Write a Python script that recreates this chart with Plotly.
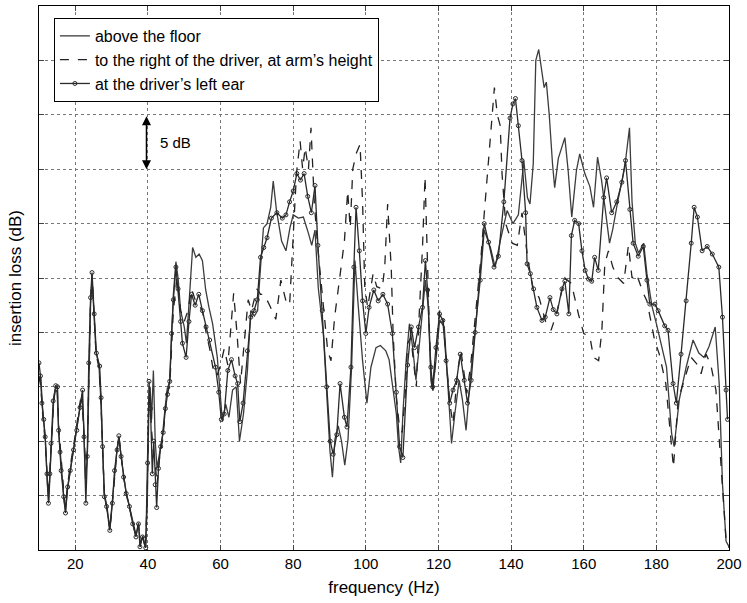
import plotly.graph_objects as go

# ---- data (frequency in Hz, insertion loss in dB, arbitrary offset) ----
F_FLOOR = [10, 10.5, 11, 11.7, 12.3, 12.7, 13.1, 13.5, 14, 14.5, 15, 15.4, 15.9, 16.4, 16.9, 17.3, 17.8, 18.5, 19.3, 20.2,
           21, 21.8, 22.3, 22.8, 23.3, 23.8, 24.2, 24.6, 25.1, 25.7, 26.5, 27, 27.5, 28, 28.7, 29.5, 30.2, 30.9, 31.5, 32,
           32.6, 33.3, 34, 34.9, 35.8, 36.7, 37.4, 37.9, 38.6, 39.3, 39.8, 40.2, 40.6, 41, 41.5, 42, 42.5, 43.2, 44, 44.7,
           45.3, 46, 46.5, 47, 47.7, 48.3, 49, 50, 50.6, 51.3, 52.3, 53.2, 54.1, 55, 55.9, 56.8, 57.8, 59.1, 60, 60.5,
           61.4, 62.3, 63.3, 64.3, 65.2, 66.3, 67.4, 68.3, 69.3, 70.2, 71, 71.8, 72.8, 73.8, 74.5, 75.4, 76.8, 78, 79.1, 80,
           81.4, 82.8, 84.2, 85.1, 86, 86.9, 88.3, 89.2, 90.1, 90.8, 91.5, 92.4, 93.3, 94.2, 95.1, 96.1, 97, 97.8, 99.1, 100.3,
           101.4, 102.8, 104, 105.5, 106.4, 107.4, 108.4, 109, 109.6, 110.2, 111.1, 112, 112.9, 113.8, 114.7, 115.9, 116.4, 117.2, 117.9, 118.4,
           119.3, 120.3, 121.6, 122.5, 123.6, 124.5, 125.7, 126.6, 127.6, 128.7, 130.1, 131.5, 132.6, 134.3, 135.6, 137, 138.9, 140.5, 142, 143.5,
           144.5, 145.2, 146.1, 146.8, 147.6, 148.4, 149.1, 149.7, 150.5, 151.4, 152, 153, 154, 154.8, 155.7, 156.7, 158, 158.9, 160.3, 161.7,
           162.7, 163.8, 164.9, 166, 167.1, 168, 169.4, 171.3, 172.6, 173.3, 174.2, 175.1, 176.5, 177.4, 178.8, 180, 181.4, 182.8, 184.2, 184.9,
           186.3, 188.2, 190.1, 191.7, 193.1, 194.5, 196.2, 197.3, 198.2, 199.2, 200]
IL_FLOOR = [15.5, 15.8, 13, 10.5, 6, 4.5, 7.5, 10.5, 13.5, 14.8, 14.5, 11, 8.5, 6.2, 4.5, 3.6, 5.5, 7, 8.8, 10.6,
            12.6, 14.2, 11.5, 6.5, 8.5, 16.5, 22.5, 25, 21.5, 18.2, 17, 14, 9.5, 5.2, 4, 2, 4.5, 7.3, 9.3, 10.3,
            8.6, 6.8, 5.3, 4, 2.6, 1.4, 2.5, 0.5, 1.3, 0.2, 4, 12, 15, 12, 16.5, 10, 7.5, 9, 10.5, 13,
            14.8, 15.5, 20, 23.5, 26.5, 25, 22, 20.5, 19, 23, 27.8, 26.9, 27.2, 26.6, 23.9, 22.3, 20.8, 17.7, 13.5, 11.8,
            13.4, 12.2, 14.7, 15, 10, 12.5, 16.5, 22, 21.5, 22, 26, 29.6, 30, 31.5, 33.9, 31.2, 28.4, 27.5, 29.6, 30.8,
            30.5, 30.6, 29.1, 28, 29.4, 24.1, 19.9, 14.7, 9.2, 6.7, 10.2, 11.4, 10, 7.8, 10.2, 17, 26.6, 22.9, 17.4, 13.5,
            16.8, 18.6, 18.8, 18.3, 17.5, 15, 12.5, 9.5, 8, 12.5, 17.4, 20.8, 18.6, 15.6, 18.6, 22.6, 24.8, 22.3, 15.6, 14.7,
            17.4, 21.1, 20.5, 15.6, 9.8, 12.5, 15.6, 13.8, 11, 15.6, 20.2, 24.8, 29.4, 27.8, 26, 28.4, 31.2, 30, 30.8, 35.8,
            32.4, 31.8, 35.5, 45, 46, 44, 42.5, 43, 40, 35.5, 33.3, 36, 37, 37.9, 34.9, 30.6, 34.9, 36.4, 34.6, 33.4,
            31.5, 36.1, 34, 31, 28.2, 29.5, 32.1, 35.2, 38.8, 32, 28.2, 27.3, 28.2, 25.4, 22.4, 20.8, 18.7, 16.8, 10.7, 9.5,
            13.8, 16.8, 19.3, 18.1, 17.7, 18.7, 20.5, 15.3, 6.1, 0.8, 0.3]

F_ARM = [10, 10.5, 11, 11.7, 12.3, 12.7, 13.1, 13.5, 14, 14.5, 15, 15.4, 15.9, 16.4, 16.9, 17.3, 17.8, 18.5, 19.3, 20.2,
         21, 21.8, 22.3, 22.8, 23.3, 23.8, 24.2, 24.6, 25.1, 25.7, 26.5, 27, 27.5, 28, 28.7, 29.5, 30.2, 30.9, 31.5, 32,
         32.6, 33.3, 34, 34.9, 35.8, 36.7, 37.4, 37.9, 38.6, 39.3, 39.8, 40.2, 40.6, 41, 41.5, 42, 42.5, 43.2, 44, 44.7,
         45.3, 46, 46.5, 47, 48, 49, 50, 51, 52, 53, 54, 55, 56, 57, 58, 59, 60, 61, 62, 63,
         63.6, 64.5, 65.5, 66.5, 67.6, 68.5, 70, 71, 72, 73.5, 75.2, 76.6, 78, 79, 80, 80.9, 81.9, 82.6, 83.3, 84.2,
         84.9, 85.8, 86.7, 88.2, 89.5, 90.4, 91.4, 92.8, 94.1, 95, 95.7, 96.4, 97.3, 98.4, 99.1, 99.7, 100.5, 102, 103, 104.5,
         105.2, 106, 107, 107.5, 108.4, 109.2, 110, 110.8, 111.5, 112.4, 113.4, 113.9, 114.7, 115.6, 116.3, 117, 117.7, 118.4, 119.3, 120.3,
         121.2, 122.1, 123.1, 124, 125.3, 126.2, 127, 127.8, 128.9, 130.3, 131.7, 132.6, 133.5, 134.5, 135.4, 136.2, 137, 137.5, 138.5, 140.3,
         141.7, 143, 144.5, 146, 147.7, 149.5, 151, 152.4, 154.8, 156.6, 158.6, 160, 161.7, 162.7, 164.1, 165, 165.8, 166.8, 168, 169.5,
         171, 172.3, 173.3, 174.5, 176.4, 177.4, 179.5, 180.8, 182.6, 184.7, 186, 188.2, 189.6, 191.4, 192.3, 193.7, 195, 196.4, 197.8, 199.2,
         200]
IL_ARM = [16, 15, 12.5, 10, 6.5, 5, 8, 10.5, 13.5, 15, 15, 11.5, 9, 6.5, 5, 4, 5.8, 7.5, 9, 11,
          13, 14.5, 11, 8, 9, 17, 23, 25.3, 21.8, 18, 16.8, 14, 9.5, 5, 3.8, 1.8, 4.3, 7.2, 9.2, 10.5,
          8.5, 6.7, 5.2, 3.8, 2.4, 1.2, 2.3, 0.3, 1.2, 0.1, 5, 13, 14, 11, 9, 8, 6, 8.5, 10, 12.5,
          14.5, 15, 19, 22, 25, 22, 21, 22, 24, 23, 22.5, 22, 20, 18.5, 16.5, 16, 17, 18.5, 17, 21,
          23.6, 20, 15.3, 19, 23, 22, 24, 23.5, 23.5, 22.5, 21.2, 24.8, 22.9, 22.5, 29.6, 34.6, 37.6, 35, 37, 35,
          38.8, 32, 28, 23, 18.3, 17.4, 21.4, 25, 28.4, 33, 29.6, 35, 36.4, 37.3, 32, 24.2, 22.3, 25.4, 24.2, 24,
          26, 31.8, 25.9, 20, 14, 11.5, 10.8, 14, 19, 19.5, 16.5, 15, 21.7, 27.8, 34.3, 26, 18, 14.4, 18.3, 22,
          21.5, 17.7, 13.5, 11.6, 16.5, 18.3, 16.5, 14.4, 17.1, 21.7, 26.9, 30.9, 34.5, 39, 42.5, 40, 39, 34.6, 30, 28.2,
          28, 31, 27, 24, 23.2, 21, 20.2, 21.6, 25, 24.5, 21.6, 19.9, 19.6, 17.7, 17.4, 20.2, 26.3, 27.5, 26, 25,
          24.5, 28, 25, 25.4, 23.6, 22.9, 19.3, 18, 15.3, 7.6, 13.8, 16.2, 17.7, 17, 16.2, 18, 17, 14.7, 7.6, 0.9,
          0.2]

F_EAR = [10, 10.4, 10.8, 11.3, 11.7, 12.2, 12.6, 13, 13.3, 13.9, 14.6, 15.1, 15.4, 15.8, 16.1, 16.8, 17.3, 17.9, 18.6, 19.5,
         20.4, 21.3, 22, 22.4, 22.9, 23.3, 23.7, 24.2, 24.6, 25.2, 25.8, 26.7, 27.1, 27.5, 28, 28.6, 29.5, 30.2, 30.8, 31.5,
         32, 32.6, 33.3, 34, 34.9, 35.8, 36.7, 37.4, 37.8, 38.5, 39.4, 39.9, 40.3, 40.7, 41.2, 41.6, 42, 42.4, 42.9, 43.5,
         44.2, 44.8, 45.4, 46, 46.5, 47, 47.7, 48.3, 49, 49.5, 50.5, 51.3, 52, 53, 54, 55, 56, 57, 58.6, 59.5,
         60.2, 61, 62, 63, 64, 64.7, 65.3, 66.2, 67.4, 68.3, 69.2, 70.1, 71, 71.9, 72.8, 74, 75.5, 77, 78, 79,
         80, 81, 82, 83, 84, 85, 86, 86.8, 88, 89.2, 90.2, 91, 92, 92.9, 94.1, 94.8, 95.9, 96.7, 97.3, 98.2,
         99.1, 100, 100.9, 102.2, 103.4, 104.7, 106, 107.3, 108.4, 109.3, 110.2, 111.5, 112.5, 113.4, 114.5, 115.6, 116.4, 117, 117.9, 118.4,
         119.3, 120.3, 121.2, 122.1, 123.1, 124, 125, 126, 127.1, 128, 129, 130.1, 131.5, 132.6, 133.8, 135.3, 136.5, 138, 139.7, 140.5,
         141.2, 142, 143, 144, 144.4, 145.3, 146.2, 147.1, 148.5, 149.4, 150.7, 151.6, 152.6, 154, 154.8, 155.9, 156.6, 157.5, 158.6, 159.5,
         160.4, 161.3, 162.2, 163, 164, 165.5, 166.3, 167.7, 169.1, 170.5, 171.5, 172.7, 173.6, 175, 176.4, 177.4, 178.2, 179.6, 180.5, 182.3,
         183.2, 184.6, 185.5, 186.8, 188.2, 189.6, 190.4, 191.3, 192.6, 194, 195.4, 197.2, 198.2, 199.2, 199.6]
IL_EAR = [17.2, 16, 13.5, 12, 10.4, 7, 4.3, 7, 9.8, 13.7, 15.1, 15, 11, 9, 7.3, 4.9, 3.4, 5.8, 7.3, 9.2,
          11, 13.1, 14.7, 10.4, 4.3, 8.6, 17.2, 23.2, 25.5, 21.7, 18.1, 16.9, 14, 9.5, 4.9, 4, 1.8, 4.3, 7.3, 9.2,
          10.5, 8.6, 6.7, 5.2, 4, 2.4, 1.2, 2.4, 0.3, 1.2, 0.2, 8, 15.5, 13, 7, 10, 6, 3.9, 7.5, 9.5,
          10.8, 13, 14.3, 15.5, 19.9, 23, 26, 24, 21, 19, 17.7, 21, 23.5, 22.5, 23.5, 22, 20.5, 19.3, 16.8, 14.5,
          12, 12.5, 16.5, 17.5, 16, 15.3, 11.8, 13.5, 18.3, 21.4, 22, 23, 26.9, 27.8, 28.7, 30.5, 31, 30.5, 30.8, 32,
          33, 34.6, 34, 34.6, 32.5, 31, 33.5, 28, 22, 15, 10, 8.8, 10.6, 15.3, 12.2, 11.3, 16.8, 26, 31.5, 27.5,
          22.9, 19.9, 22.3, 23.9, 22.9, 23.5, 22.6, 19.9, 14.5, 9.5, 8.5, 17, 20.5, 18.6, 20.5, 22.3, 26.6, 23.9, 16.8, 15,
          18.6, 21.7, 21.1, 17.4, 13.5, 14.7, 15.6, 18, 15.6, 13.5, 15.6, 20, 24.8, 30, 28.3, 26, 27, 32, 39.7, 41,
          41.5, 39, 35.8, 31, 26.3, 25.4, 24, 22.3, 21.1, 21.4, 23.2, 22.1, 21.7, 24, 24.7, 21.7, 28.9, 30.3, 30, 27.5,
          25.7, 24.9, 24.7, 26.9, 25.7, 32.4, 34.2, 31, 32, 33.8, 35.8, 31.3, 28.2, 27, 27.9, 24.8, 22.6, 22.6, 22, 20.6,
          20.2, 15.3, 13.5, 18, 22.9, 28.2, 31.5, 30.6, 27.5, 27.9, 27.2, 26, 21.4, 14.7, 12]

X_TICKS = [20, 40, 60, 80, 100, 120, 140, 160, 180, 200]
NAMES = ["above the floor", "to the right of the driver, at arm\u2019s height", "at the driver\u2019s left ear"]

FONT = "Liberation Sans, Arial, sans-serif"

fig = go.Figure()
fig.add_trace(go.Scatter(x=F_FLOOR, y=IL_FLOOR, mode="lines", name=NAMES[0],
                         line=dict(color="#3c3c3c", width=1.3)))
fig.add_trace(go.Scatter(x=F_ARM, y=IL_ARM, mode="lines", name=NAMES[1],
                         line=dict(color="#222222", width=1.3, dash="dash")))
fig.add_trace(go.Scatter(x=F_EAR, y=IL_EAR, mode="lines+markers", name=NAMES[2],
                         line=dict(color="#2a2a2a", width=1.3),
                         marker=dict(symbol="circle-open", size=4, color="#2a2a2a", line=dict(width=1))))

# 5 dB scale arrow
fig.add_annotation(x=39.6, y=35, ax=39.6, ay=40, xref="x", yref="y", axref="x", ayref="y",
                   text="", showarrow=True, arrowhead=2, arrowside="end+start",
                   arrowsize=1.2, arrowwidth=1.5, arrowcolor="black", standoff=0, startstandoff=0)
fig.add_annotation(x=42.8, y=37.5, xref="x", yref="y", text="5 dB", showarrow=False,
                   xanchor="left", font=dict(size=15, color="black", family=FONT))

fig.update_layout(
    width=747, height=603,
    margin=dict(l=39, r=14, t=5, b=53),
    paper_bgcolor="white", plot_bgcolor="white",
    font=dict(family=FONT, size=14, color="black"),
    showlegend=True,
    legend=dict(x=0.0216, y=0.978, xanchor="left", yanchor="top",
                bgcolor="white", bordercolor="black", borderwidth=1,
                font=dict(size=16, family=FONT), tracegroupgap=0, itemwidth=30),
)
fig.update_xaxes(range=[10, 200], tickvals=X_TICKS, ticks="inside", ticklen=5,
                 showline=True, linecolor="black", linewidth=1, mirror="ticks",
                 showgrid=True, gridcolor="#777777", griddash="dot", gridwidth=1,
                 zeroline=False, title=dict(text="frequency (Hz)", standoff=10),
                 tickfont=dict(size=15))
fig.update_yaxes(range=[0, 50], dtick=5, tick0=0, ticks="inside", ticklen=5,
                 showticklabels=False,
                 showline=True, linecolor="black", linewidth=1, mirror="ticks",
                 showgrid=True, gridcolor="#777777", griddash="dot", gridwidth=1,
                 zeroline=False, title=dict(text="insertion loss (dB)", standoff=12))

fig.write_html("out.html")
